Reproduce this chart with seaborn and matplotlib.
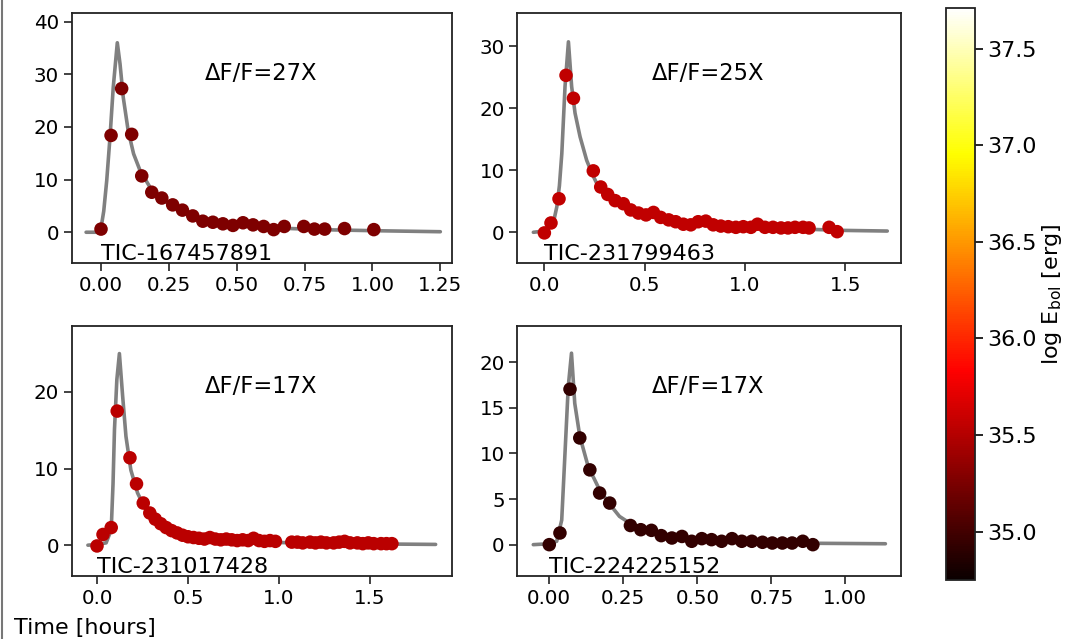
import numpy as np
import pandas as pd
import matplotlib
matplotlib.use("Agg")
import matplotlib.pyplot as plt
import matplotlib.transforms as mtransforms
from matplotlib.lines import Line2D
import seaborn as sns

# ---------------- data ----------------
tic_ids = ["TIC-167457891", "TIC-231799463", "TIC-231017428", "TIC-224225152"]
amp_labels = ["\u0394F/F=27X", "\u0394F/F=25X", "\u0394F/F=17X", "\u0394F/F=17X"]
log_energy = [35.27, 35.55, 35.53, 34.93]

# panel 1 observations
t1 = [0.0, 0.037, 0.076, 0.113, 0.15, 0.187, 0.224, 0.264, 0.30, 0.338, 0.375, 0.412,
      0.449, 0.486, 0.523, 0.56, 0.599, 0.636, 0.675, 0.747, 0.786, 0.824, 0.897, 1.005]
f1 = [0.6, 18.4, 27.3, 18.6, 10.7, 7.6, 6.5, 5.2, 4.2, 3.1, 2.1, 1.9,
      1.6, 1.3, 1.8, 1.4, 1.1, 0.5, 1.1, 1.1, 0.6, 0.6, 0.7, 0.5]
# panel 1 model curve
mt1 = [-0.055, -0.01, 0.0, 0.01, 0.021, 0.033, 0.045, 0.06, 0.07, 0.082, 0.10, 0.12, 0.144,
       0.18, 0.22, 0.25, 0.30, 0.35, 0.40, 0.50, 0.60, 0.70, 0.85, 1.0, 1.25]
mf1 = [0.0, 0.0, 0.8, 4.0, 9.8, 18.0, 27.5, 36.0, 32.0, 25.6, 19.3, 14.9, 11.7,
       8.6, 6.5, 5.4, 4.0, 3.0, 2.3, 1.5, 1.0, 0.7, 0.45, 0.3, 0.1]

# panel 2 observations
t2 = [0.0, 0.033, 0.073, 0.108, 0.145, 0.244, 0.281, 0.316, 0.353, 0.394, 0.431, 0.469,
      0.507, 0.544, 0.58, 0.62, 0.655, 0.693, 0.73, 0.767, 0.805, 0.842, 0.88, 0.917,
      0.955, 0.992, 1.03, 1.063, 1.10, 1.14, 1.18, 1.215, 1.25, 1.29, 1.32, 1.42, 1.46]
f2 = [-0.1, 1.5, 5.4, 25.3, 21.6, 9.9, 7.3, 6.1, 5.1, 4.6, 3.6, 3.1,
      2.8, 3.2, 2.4, 2.0, 1.7, 1.3, 1.2, 1.7, 1.8, 1.2, 1.0, 0.9,
      0.8, 0.9, 0.8, 1.3, 0.8, 0.8, 0.7, 0.7, 0.8, 0.8, 0.7, 0.8, 0.1]
mt2 = [-0.055, 0.0, 0.028, 0.05, 0.062, 0.075, 0.087, 0.103, 0.12, 0.136, 0.153, 0.178,
       0.211, 0.24, 0.261, 0.30, 0.35, 0.42, 0.5, 0.6, 0.75, 0.9, 1.0, 1.15, 1.3, 1.5, 1.71]
mf2 = [0.0, 0.2, 0.9, 2.3, 4.1, 7.5, 12.7, 23.5, 30.7, 23.5, 19.2, 15.4,
       11.6, 9.3, 7.9, 6.4, 5.2, 4.0, 3.0, 2.3, 1.6, 1.1, 0.9, 0.7, 0.5, 0.3, 0.2]

# panel 3 observations
t3 = [0.0, 0.033, 0.078, 0.111, 0.181, 0.217, 0.254,
      0.29, 0.32, 0.35, 0.38, 0.41, 0.44, 0.47, 0.50, 0.53, 0.56, 0.59, 0.62, 0.65, 0.68,
      0.71, 0.74, 0.77, 0.80, 0.83, 0.86, 0.89, 0.92, 0.95, 0.98,
      1.07, 1.10, 1.13, 1.17, 1.20, 1.23, 1.26, 1.30, 1.33, 1.36, 1.39, 1.43, 1.46, 1.49,
      1.52, 1.56, 1.59, 1.62]
f3 = [-0.1, 1.4, 2.3, 17.5, 11.4, 8.0, 5.5,
      4.2, 3.4, 2.8, 2.3, 1.9, 1.6, 1.3, 1.1, 1.0, 0.9, 0.8, 1.0, 0.8, 0.7,
      0.8, 0.7, 0.6, 0.7, 0.6, 0.9, 0.6, 0.5, 0.6, 0.5,
      0.4, 0.4, 0.3, 0.4, 0.3, 0.4, 0.3, 0.3, 0.4, 0.5, 0.3, 0.3, 0.2, 0.3,
      0.2, 0.2, 0.2, 0.2]
mt3 = [-0.05, 0.0, 0.05, 0.078, 0.088, 0.096, 0.109, 0.123, 0.141, 0.159, 0.186, 0.223,
       0.268, 0.30, 0.35, 0.42, 0.5, 0.6, 0.75, 1.0, 1.3, 1.6, 1.86]
mf3 = [0.0, 0.1, 0.3, 2.0, 8.0, 15.1, 21.6, 25.0, 19.4, 14.2, 9.8, 6.8,
       4.6, 3.7, 2.8, 1.9, 1.3, 0.9, 0.6, 0.35, 0.2, 0.15, 0.1]

# panel 4 observations
t4 = [0.0, 0.036, 0.07, 0.103, 0.137, 0.17, 0.204, 0.274, 0.309, 0.345, 0.378, 0.414,
      0.448, 0.481, 0.515, 0.548, 0.582, 0.617, 0.65, 0.684, 0.72, 0.753, 0.787, 0.82,
      0.856, 0.89]
f4 = [0.0, 1.28, 17.05, 11.7, 8.2, 5.66, 4.56, 2.1, 1.64, 1.57, 0.99, 0.73,
      0.9, 0.37, 0.66, 0.55, 0.37, 0.66, 0.37, 0.37, 0.26, 0.18, 0.18, 0.18,
      0.37, 0.0]
mt4 = [-0.054, 0.0, 0.025, 0.042, 0.053, 0.064, 0.075, 0.086, 0.103, 0.131, 0.17, 0.205,
       0.237, 0.27, 0.30, 0.35, 0.4, 0.5, 0.6, 0.7, 0.9, 1.135]
mf4 = [0.0, 0.1, 0.37, 2.7, 10.0, 17.3, 21.0, 15.5, 11.9, 8.6, 6.0, 4.4,
       3.1, 2.4, 2.0, 1.5, 1.1, 0.6, 0.4, 0.3, 0.15, 0.1]

obs_t = [t1, t2, t3, t4]
obs_f = [f1, f2, f3, f4]
mod_t = [mt1, mt2, mt3, mt4]
mod_f = [mf1, mf2, mf3, mf4]

xlims = [(-0.108, 1.293), (-0.135, 1.776), (-0.139, 1.95), (-0.108, 1.186)]
ylims = [(-5.9, 41.6), (-5.0, 35.3), (-4.06, 28.6), (-3.47, 23.98)]
xticks = [[0, 0.25, 0.5, 0.75, 1.0, 1.25], [0, 0.5, 1.0, 1.5], [0, 0.5, 1.0, 1.5],
          [0, 0.25, 0.5, 0.75, 1.0]]
yticks = [[0, 10, 20, 30, 40], [0, 10, 20, 30], [0, 10, 20], [0, 5, 10, 15, 20]]
cbar_ticks = [35.0, 35.5, 36.0, 36.5, 37.0, 37.5]
vmin, vmax = 34.75, 37.71

# ---------------- style ----------------
sns.set_style("ticks")
plt.rcParams["font.family"] = ["DejaVu Sans"]
plt.rcParams["font.size"] = 14
plt.rcParams["text.color"] = "black"
plt.rcParams["xtick.color"] = "black"
plt.rcParams["ytick.color"] = "black"
plt.rcParams["xtick.labelcolor"] = "black"
plt.rcParams["ytick.labelcolor"] = "black"
plt.rcParams["axes.labelcolor"] = "black"
plt.rcParams["axes.edgecolor"] = "#222222"
plt.rcParams["axes.linewidth"] = 1.3

W, H = 1065, 639
fig = plt.figure(figsize=(W / 100, H / 100), dpi=100)
fig.patch.set_facecolor("white")

def box(l, t, r, b):
    return [l / W, 1 - b / H, (r - l) / W, (b - t) / H]

positions = [box(71.7, 13.3, 452, 263.3), box(517.3, 13.3, 900.5, 263.3),
             box(71.7, 326, 452, 576.3), box(517.3, 326, 900.5, 576.3)]

cmap = plt.get_cmap("hot")
norm = matplotlib.colors.Normalize(vmin=vmin, vmax=vmax)

for i in range(4):
    ax = fig.add_axes(positions[i])
    dm = pd.DataFrame({"t": mod_t[i], "f": mod_f[i]})
    do = pd.DataFrame({"t": obs_t[i], "f": obs_f[i]})
    sns.lineplot(data=dm, x="t", y="f", ax=ax, color="#808080", lw=2.6,
                 sort=False, estimator=None, zorder=1)
    sns.scatterplot(data=do, x="t", y="f", ax=ax, color=cmap(norm(log_energy[i])),
                    s=95, edgecolor="none", linewidth=0, zorder=2)
    ax.set_xlim(*xlims[i])
    ax.set_ylim(*ylims[i])
    ax.set_xticks(xticks[i])
    ax.set_yticks(yticks[i])
    ax.set_xlabel("")
    ax.set_ylabel("")
    ax.tick_params(axis="both", labelsize=14.3, length=5.5, width=1.2, direction="out",
                   color="#222222", labelcolor="black")
    for sp in ax.spines.values():
        sp.set_visible(True)
        sp.set_linewidth(1.3)
    ax.text(0.35, 0.76, amp_labels[i], transform=ax.transAxes, fontsize=16.3,
            ha="left", va="center", color="black")
    trans = mtransforms.blended_transform_factory(ax.transData, ax.transAxes)
    ax.text(0.0, 0.012, tic_ids[i], transform=trans, fontsize=16,
            ha="left", va="baseline", color="black")

# colorbar
cax = fig.add_axes(box(946, 8, 975, 580))
sm = matplotlib.cm.ScalarMappable(norm=norm, cmap=cmap)
sm.set_array([])
cb = fig.colorbar(sm, cax=cax)
cb.set_ticks(cbar_ticks)
cb.ax.tick_params(labelsize=16, length=5.5, width=1.2, labelcolor="black")
cb.outline.set_linewidth(1.3)
cb.set_label(r"log E$_{\rm bol}$ [erg]", fontsize=16, labelpad=2, color="black")

fig.text(14 / W, 1 - 628 / H, "Time [hours]", fontsize=16, ha="left", va="center",
         color="black")

# screenshot edge line on the left
fig.add_artist(Line2D([1.5 / W, 1.5 / W], [0, 1], transform=fig.transFigure,
                      color="#777777", lw=1.5))

fig.savefig("out.png", dpi=100, facecolor="white")
